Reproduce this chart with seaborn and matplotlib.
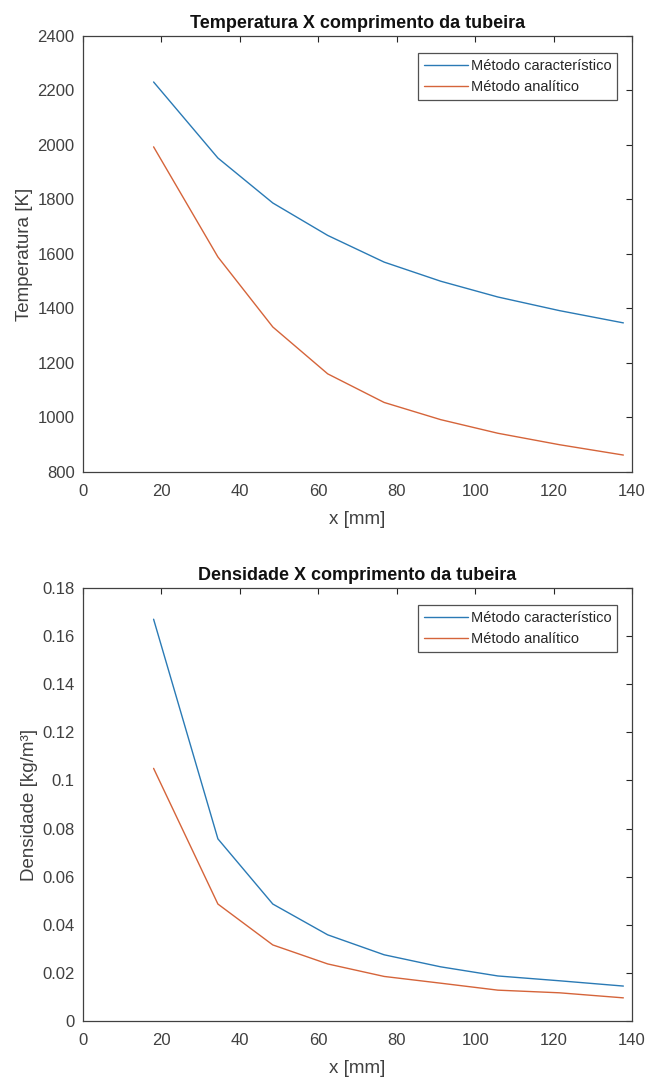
import matplotlib
matplotlib.use("Agg")
import matplotlib.pyplot as plt
import seaborn as sns
import pandas as pd
from matplotlib.ticker import FuncFormatter, MultipleLocator

# ---- data ----
x_mm = [18.0, 34.4, 48.4, 62.4, 76.8, 91.2, 105.8, 121.5, 137.8]
temp_caracteristico = [2231, 1952, 1787, 1668, 1570, 1500, 1442, 1392, 1347]
temp_analitico = [1993, 1589, 1332, 1160, 1055, 992, 942, 900, 862]
dens_caracteristico = [0.167, 0.0757, 0.0486, 0.0358, 0.0275, 0.0225, 0.0187, 0.0167, 0.0145]
dens_analitico = [0.105, 0.0486, 0.0316, 0.0237, 0.0185, 0.0157, 0.0128, 0.0117, 0.0096]
series_names = ["Método característico", "Método analítico"]
titles = ["Temperatura X comprimento da tubeira", "Densidade X comprimento da tubeira"]
ylabels = ["Temperatura [K]", "Densidade [kg/m³]"]
xlabel = "x [mm]"

colors = ["#2a7ab5", "#d5643a"]

sns.set_style("white")
plt.rcParams['font.family'] = ['Liberation Sans', 'DejaVu Sans']

def long_df(a, b):
    return pd.DataFrame({
        "x": x_mm + x_mm,
        "y": a + b,
        "serie": [series_names[0]] * len(x_mm) + [series_names[1]] * len(x_mm),
    })

fig = plt.figure(figsize=(6.48, 10.79), dpi=100)
ax1 = fig.add_axes([0.1281, 0.5626, 0.8472, 0.4041])
ax2 = fig.add_axes([0.1281, 0.0538, 0.8472, 0.4013])

txt = "#262626"
specs = [
    (ax1, long_df(temp_caracteristico, temp_analitico), (800, 2400), 200, lambda v, p: f"{v:g}"),
    (ax2, long_df(dens_caracteristico, dens_analitico), (0, 0.18), 0.02, lambda v, p: f"{round(v, 4):g}"),
]

for i, (ax, df, ylim, ystep, fmt) in enumerate(specs):
    sns.lineplot(data=df, x="x", y="y", hue="serie", palette=colors, ax=ax,
                 linewidth=1.0, sort=False)
    ax.set_xlim(0, 140)
    ax.set_ylim(*ylim)
    ax.xaxis.set_major_locator(MultipleLocator(20))
    ax.yaxis.set_major_locator(MultipleLocator(ystep))
    ax.yaxis.set_major_formatter(FuncFormatter(fmt))
    ax.tick_params(direction="in", top=True, right=True, length=4, width=0.8,
                   colors=txt, labelsize=12, labelcolor="#404040")
    ax.tick_params(axis="x", pad=9)
    ax.tick_params(axis="y", pad=6)
    for s in ax.spines.values():
        s.set_color("#404040")
        s.set_linewidth(0.9)
    ax.set_title(titles[i], fontsize=13, fontweight="bold", color="#111111", pad=6)
    ax.set_xlabel(xlabel, fontsize=13.5, color="#404040", labelpad=8)
    ax.set_ylabel(ylabels[i], fontsize=13.5, color="#404040", labelpad=3)
    leg = ax.legend(loc="upper right", bbox_to_anchor=(0.973, 0.961), fontsize=10.5,
                    frameon=True, fancybox=False, edgecolor="#262626",
                    handlelength=3.0, handletextpad=0.2, borderpad=0.4,
                    labelspacing=0.5, borderaxespad=0.0)
    leg.get_frame().set_linewidth(0.9)
    for t in leg.get_texts():
        t.set_color("#262626")

fig.savefig("out.png", dpi=100, facecolor="white")
